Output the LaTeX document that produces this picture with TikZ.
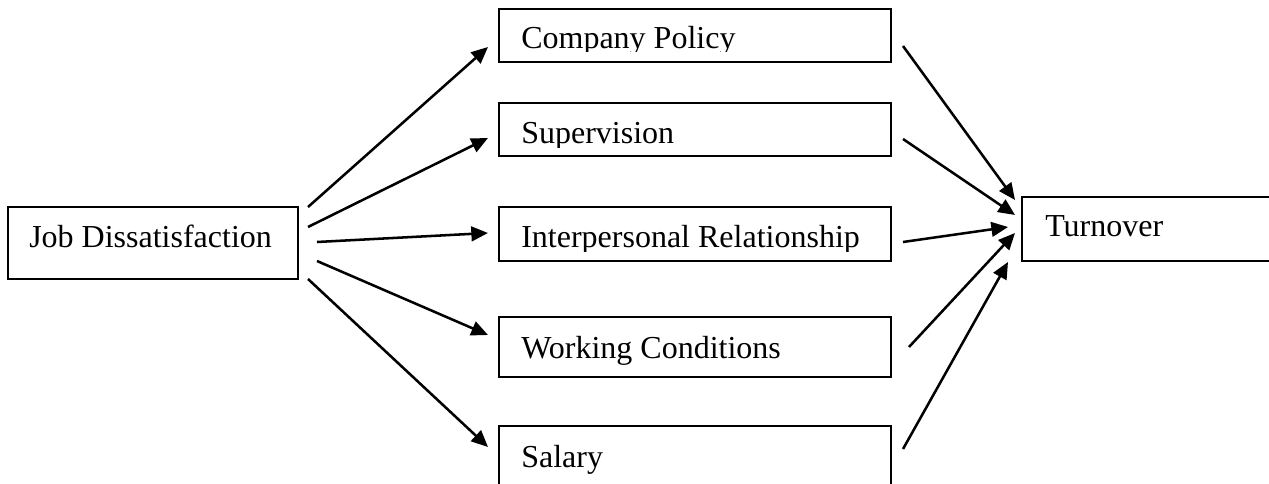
\documentclass[tikz,border=0pt]{standalone}
\usepackage{fontspec}
\setmainfont{Liberation Serif}
\usetikzlibrary{arrows.meta,calc}
\begin{document}
\begin{tikzpicture}[x=0.75pt,y=-0.75pt,
  box/.style={draw, line width=1.5pt, rectangle, anchor=north west,
              inner sep=0pt, outer sep=0pt},
  lbl/.style={anchor=base west, inner sep=0pt,
              font=\fontsize{24pt}{28pt}\selectfont},
  link/.style={line width=1.9pt, -{Triangle[length=12.5pt,width=11pt]}}]
\useasboundingbox (0,0) rectangle (1269,484);
\clip (0,0) rectangle (1269,484);

% boxes
\node[box, minimum width=217.5pt, minimum height=54pt] (job) at (8,207) {};
\node[box, minimum width=294pt, minimum height=39.75pt] (cp) at (499,9) {};
\node[box, minimum width=294pt, minimum height=39.75pt] (sup) at (499,103) {};
\node[box, minimum width=294pt, minimum height=40.5pt] (ir) at (499,207) {};
\node[box, minimum width=294pt, minimum height=45pt] (wc) at (499,317) {};
\node[box, minimum width=294pt, minimum height=60pt] (sal) at (499,426) {};
\node[box, minimum width=201pt, minimum height=48pt] (to) at (1022,197) {};

% labels
\node[lbl] (jobt) at (29,248) {Job Dissatisfaction};
\begin{scope}
  \clip (499,9) rectangle (891,52);
  \node[lbl] (cpt) at (521,49) {Company Policy};
\end{scope}
\begin{scope}
  \clip (499,103) rectangle (891,148);
  \node[lbl] (supt) at (521,144) {Supervision};
\end{scope}
\begin{scope}
  \clip (499,207) rectangle (891,252);
  \node[lbl] (irt) at (521,248) {Interpersonal Relationship};
\end{scope}
\node[lbl] (wct) at (521,358) {Working Conditions};
\node[lbl] (salt) at (521,467) {Salary};
\node[lbl] (tot) at (1045,237) {Turnover};

% job dissatisfaction to the five factors
\draw[link] ($(job.north east)+(10,0)$) -- ($(cp.west)+(-11,11.5)$);
\draw[link] ($(job.north east)+(10,20)$) -- ($(sup.west)+(-11,8.5)$);
\draw[link] ($(job.east)+(19,-1)$) -- ($(ir.west)+(-11,-1)$);
\draw[link] ($(job.east)+(19,18)$) -- ($(wc.west)+(-11,-12)$);
\draw[link] ($(job.south east)+(10,0)$) -- ($(sal.north west)+(-11,21)$);

% the five factors to turnover
\draw[link] ($(cp.east)+(12,10.5)$) -- ($(to.west)+(-7,-29)$);
\draw[link] ($(sup.east)+(12,9.5)$) -- ($(to.west)+(-7,-14)$);
\draw[link] ($(ir.east)+(12,8)$) -- ($(to.west)+(-14,-2)$);
\draw[link] ($(wc.east)+(18,0)$) -- ($(to.west)+(-7,4)$);
\draw[link] ($(sal.north east)+(12,23)$) -- ($(to.west)+(-14,33)$);
\end{tikzpicture}
\end{document}
